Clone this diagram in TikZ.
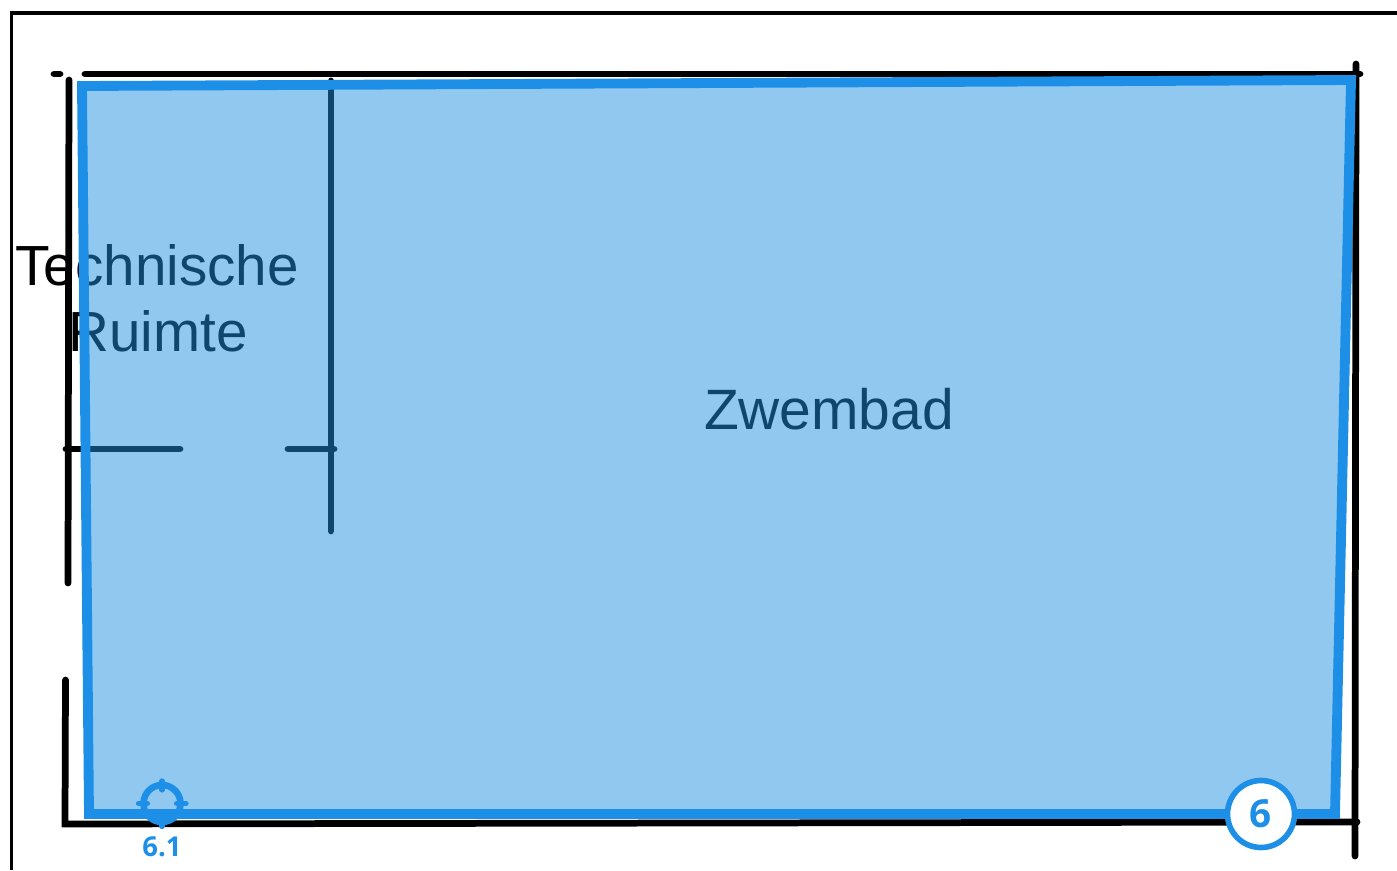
\documentclass[tikz,border=0pt]{standalone}
\usepackage{fontspec}
\setmainfont{Liberation Sans}
\newfontfamily\badgefont{Open Sans}
\definecolor{zoneblue}{HTML}{1E8FE6}
\definecolor{zonefill}{HTML}{1E8FE0}
\tikzset{
	wall/.style={black, line width=9.6pt, line cap=round},
	roomlabel/.style={anchor=base, font=\fontsize{80.5}{80}\selectfont},
	tick/.style={zoneblue, line width=8.2pt, line cap=round},
}

\begin{document}
\begin{tikzpicture}[x=0.05cm, y=-0.05cm]
	\useasboundingbox (0,0) rectangle (1397,870);
	
	% Frame
	\draw[black, line width=4.4pt] (11.5,870) -- (11.5,13) -- (1397,13);
	
	% Room names
	\node[roomlabel] (technische) at (157,285) {Technische};
	\node[roomlabel] (ruimte) at (158,351) {Ruimte};
	\node[roomlabel, font=\fontsize{81}{80}\selectfont] (zwembad) at (829,429) {Zwembad};
	
	% Walls
	\draw[wall] (54,74) -- (60,74);
	\draw[wall] (85,74) -- (1360,74);
	\draw[wall] (1356,64) -- (1355,856);
	\draw[wall] (69,80) -- (68,583);
	\draw[wall] (65.5,680) -- (65,824) -- (1357,822);
	\draw[wall] (66,449) -- (180,449);
	\draw[wall] (288,449) -- (334,449);
	\draw[wall] (331,81) -- (331,531);
	
	% Zone
	\fill[zonefill, opacity=0.49] (82,86) -- (1351,80) -- (1335,814) -- (89,814) -- cycle;
	\draw[zoneblue, line width=14pt, miter limit=10] (82,86) -- (1351,80) -- (1335,814) -- (89,814) -- cycle;
	
	% Measuring point
	\node[draw=zoneblue, line width=9.4pt, circle, minimum size=37*1.4226pt, inner sep=0pt] (target) at (162,803.5) {};
	\draw[tick] (target.north) ++(0,-0.5) -- ++(0,8.5);
	\draw[tick] (target.south) ++(0,-9) -- ++(0,10);
	\draw[tick] (target.west) ++(-1.5,0) -- ++(8.5,0);
	\draw[tick] (target.east) ++(-7,0) -- ++(9,0);
	\node[zoneblue, font=\badgefont\bfseries\fontsize{39}{39}\selectfont] (targetlabel) at (162,847) {6.1};
	
	% Zone number
	\node[draw=zoneblue, fill=white, line width=8pt, circle, minimum size=67*1.4226pt, inner sep=0pt,
		font=\badgefont\bfseries\fontsize{55}{55}\selectfont, text=zoneblue] (zonenumber) at (1261,814) {6};
	
\end{tikzpicture}
\end{document}
